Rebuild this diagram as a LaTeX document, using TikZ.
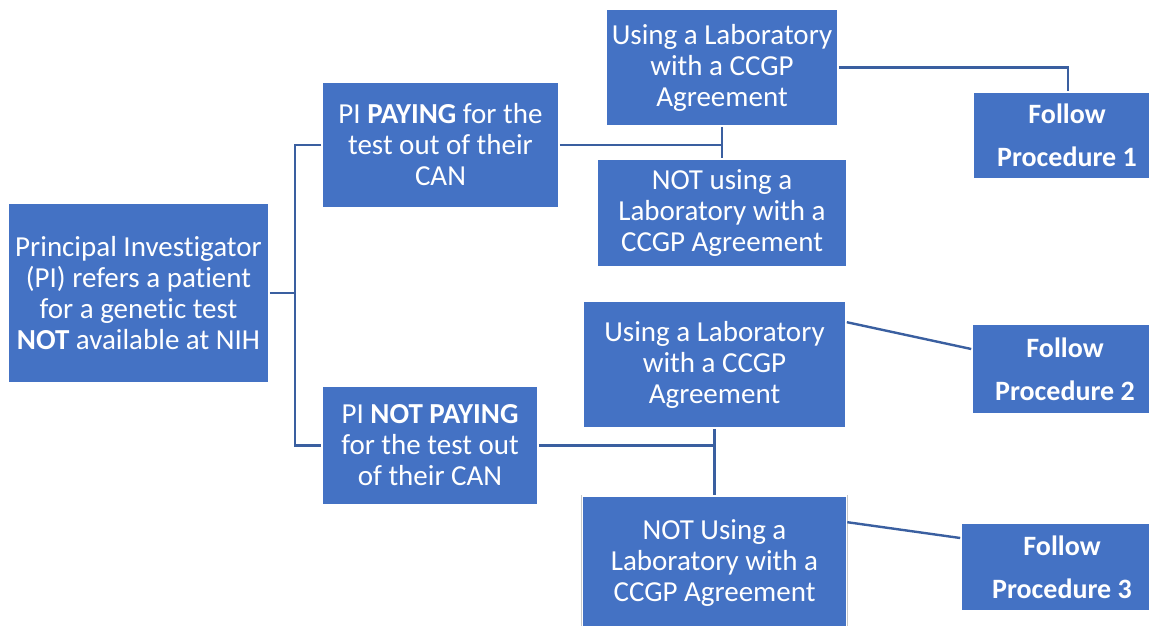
\documentclass[tikz,border=0pt]{standalone}
\usepackage{fontspec}
\setmainfont{Carlito}[Ligatures=NoCommon]
\usetikzlibrary{calc}
\definecolor{boxblue}{HTML}{4472C4}
\definecolor{linkblue}{HTML}{3A5FA0}
\definecolor{rimgray}{HTML}{C8C8C8}
\tikzset{
  box/.style={rectangle, fill=boxblue, draw=white, line width=1.6pt,
    preaction={draw=rimgray, line width=2.8pt},
    text=white, align=center, inner sep=0pt,
    font=\fontsize{29}{31}\selectfont},
  probox/.style={box, font=\bfseries\fontsize{28}{43}\selectfont},
  link/.style={draw=linkblue, line width=2.4pt}
}
\begin{document}
\begin{tikzpicture}[x=1pt,y=-1pt]
\useasboundingbox (0,0) rectangle (1149,626);
% nodes
\node[box, minimum width=261pt, minimum height=180pt] (A) at (138.5,293)
  {Principal Investigator\\(PI) refers a patient\\for a genetic test\\\textbf{NOT} available at NIH};
\node[box, minimum width=237pt, minimum height=126pt] (B) at (440.5,145)
  {PI \textbf{PAYING} for the\\test out of their\\CAN};
\node[box, minimum width=232pt, minimum height=117pt] (C) at (722,67.5)
  {Using a Laboratory\\with a CCGP\\Agreement};
\node[box, minimum width=250pt, minimum height=108pt] (D) at (722,213)
  {NOT using a\\Laboratory with a\\CCGP Agreement};
\node[probox, minimum width=188pt, minimum height=87pt] (E) at (1067,135.5)
  {Follow\\Procedure 1};
\node[box, minimum width=216pt, minimum height=119pt] (F) at (430,445.5)
  {PI \textbf{NOT PAYING}\\for the test out\\of their CAN};
\node[box, minimum width=263pt, minimum height=127pt] (G) at (714.5,364.5)
  {Using a Laboratory\\with a CCGP\\Agreement};
\node[box, minimum width=264pt, minimum height=134pt] (H) at (714.5,563)
  {NOT Using a\\Laboratory with a\\CCGP Agreement};
\node[probox, minimum width=186pt, minimum height=90pt] (I) at (1065,369)
  {Follow\\Procedure 2};
\node[probox, minimum width=202pt, minimum height=88pt] (J) at (1062,567)
  {Follow\\Procedure 3};
% connectors
\coordinate (trunk) at (295,0);
\draw[link] (A.east) -- (A.east -| trunk);
\draw[link] (B.west) -- (B.west -| trunk) -- (F.west -| trunk) -- (F.west);
\draw[link] (B.east) -- (B.east -| C.south);
\draw[link] (C.south) -- (D.north);
\coordinate (Etop) at ([xshift=1pt]E.north);
\draw[link] (C.east) -| (Etop);
\draw[link] (F.east) -- (F.east -| G.south);
\draw[link] (G.south) -- (H.north);
\draw[link] ([yshift=-22pt]G.north east) -- ([yshift=20pt]I.west);
\draw[link] ([yshift=-27pt]H.north east) -- ([yshift=29pt]J.west);
\end{tikzpicture}
\end{document}
